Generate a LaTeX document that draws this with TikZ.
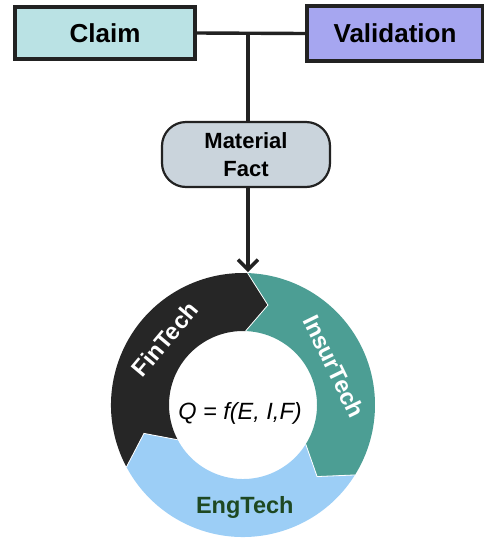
\documentclass[tikz,border=0pt]{standalone}
\usepackage{fontspec}
\setmainfont{Liberation Sans}
\usetikzlibrary{arrows.meta}
\definecolor{claimc}{RGB}{186,226,228}
\definecolor{valc}{RGB}{166,166,240}
\definecolor{mfc}{RGB}{202,212,220}
\definecolor{edgec}{RGB}{34,34,34}
\definecolor{segblack}{RGB}{38,38,38}
\definecolor{segteal}{RGB}{76,158,148}
\definecolor{segblue}{RGB}{156,206,246}
\definecolor{enggreen}{RGB}{30,72,34}
\begin{document}
\begin{tikzpicture}[x=1pt,y=1pt,
  box/.style={draw=edgec, line width=3.2pt, font=\fontsize{26}{30}\selectfont\bfseries, inner sep=0pt},
  conn/.style={draw=edgec, line width=3.4pt},
  seg/.style={draw=white, line width=0.8pt, line join=miter},
  seglabel/.style={font=\fontsize{23.5}{28}\selectfont\bfseries, inner sep=0pt}]
\useasboundingbox (0,0) rectangle (484,-542);
% top boxes
\node[box, fill=claimc, minimum width=180pt, minimum height=52pt] (claim) at (105,-33) {Claim};
\node[box, fill=valc, minimum width=176pt, minimum height=55pt] (validation) at (395,-33.5) {Validation};
\node[box, line width=2.2pt, fill=mfc, rounded corners=24pt, minimum width=168pt, minimum height=65pt,
      font=\fontsize{22}{28}\selectfont\bfseries, align=center] (mf) at (246,-154.5) {Material\\Fact};
% connectors
\coordinate (j) at (248,-33);
\coordinate (ringtop) at (248,-272);
\draw[conn] (claim.east) -- (validation.west);
\draw[conn] (j) -- (j |- mf.north);
\draw[conn, -{Straight Barb[length=10pt,width=20pt]}] (mf.south -| j) -- (ringtop);
% ring
\begin{scope}[shift={(243,-405)}]
  \fill[segblack] (208:132) arc[start angle=208, end angle=88, radius=132] -- (76:103) -- (88:74)
        arc[start angle=88, end angle=208, radius=74] -- (196:103) -- cycle;
  \fill[segteal] (88:132) arc[start angle=88, end angle=-32, radius=132] -- (-44:103) -- (-32:74)
        arc[start angle=-32, end angle=88, radius=74] -- (76:103) -- cycle;
  \fill[segblue] (-32:132) arc[start angle=-32, end angle=-152, radius=132] -- (-164:103) -- (-152:74)
        arc[start angle=-152, end angle=-32, radius=74] -- (-44:103) -- cycle;
  \draw[seg] (88:132) -- (76:103) -- (88:74);
  \draw[seg] (-32:132) -- (-44:103) -- (-32:74);
  \draw[seg] (-152:132) -- (-164:103) -- (-152:74);
  \node[seglabel, text=white, rotate=50] (fin) at (140:102) {FinTech};
  \node[seglabel, text=white, rotate=-64] (ins) at (23:99) {InsurTech};
  \node[seglabel, text=enggreen] (eng) at (-89:102) {EngTech};
  \node[font=\fontsize{23.5}{28}\selectfont\itshape, inner sep=0pt] (q) at (-3,-8) {Q = f(E, I,F)};
\end{scope}
\end{tikzpicture}
\end{document}
